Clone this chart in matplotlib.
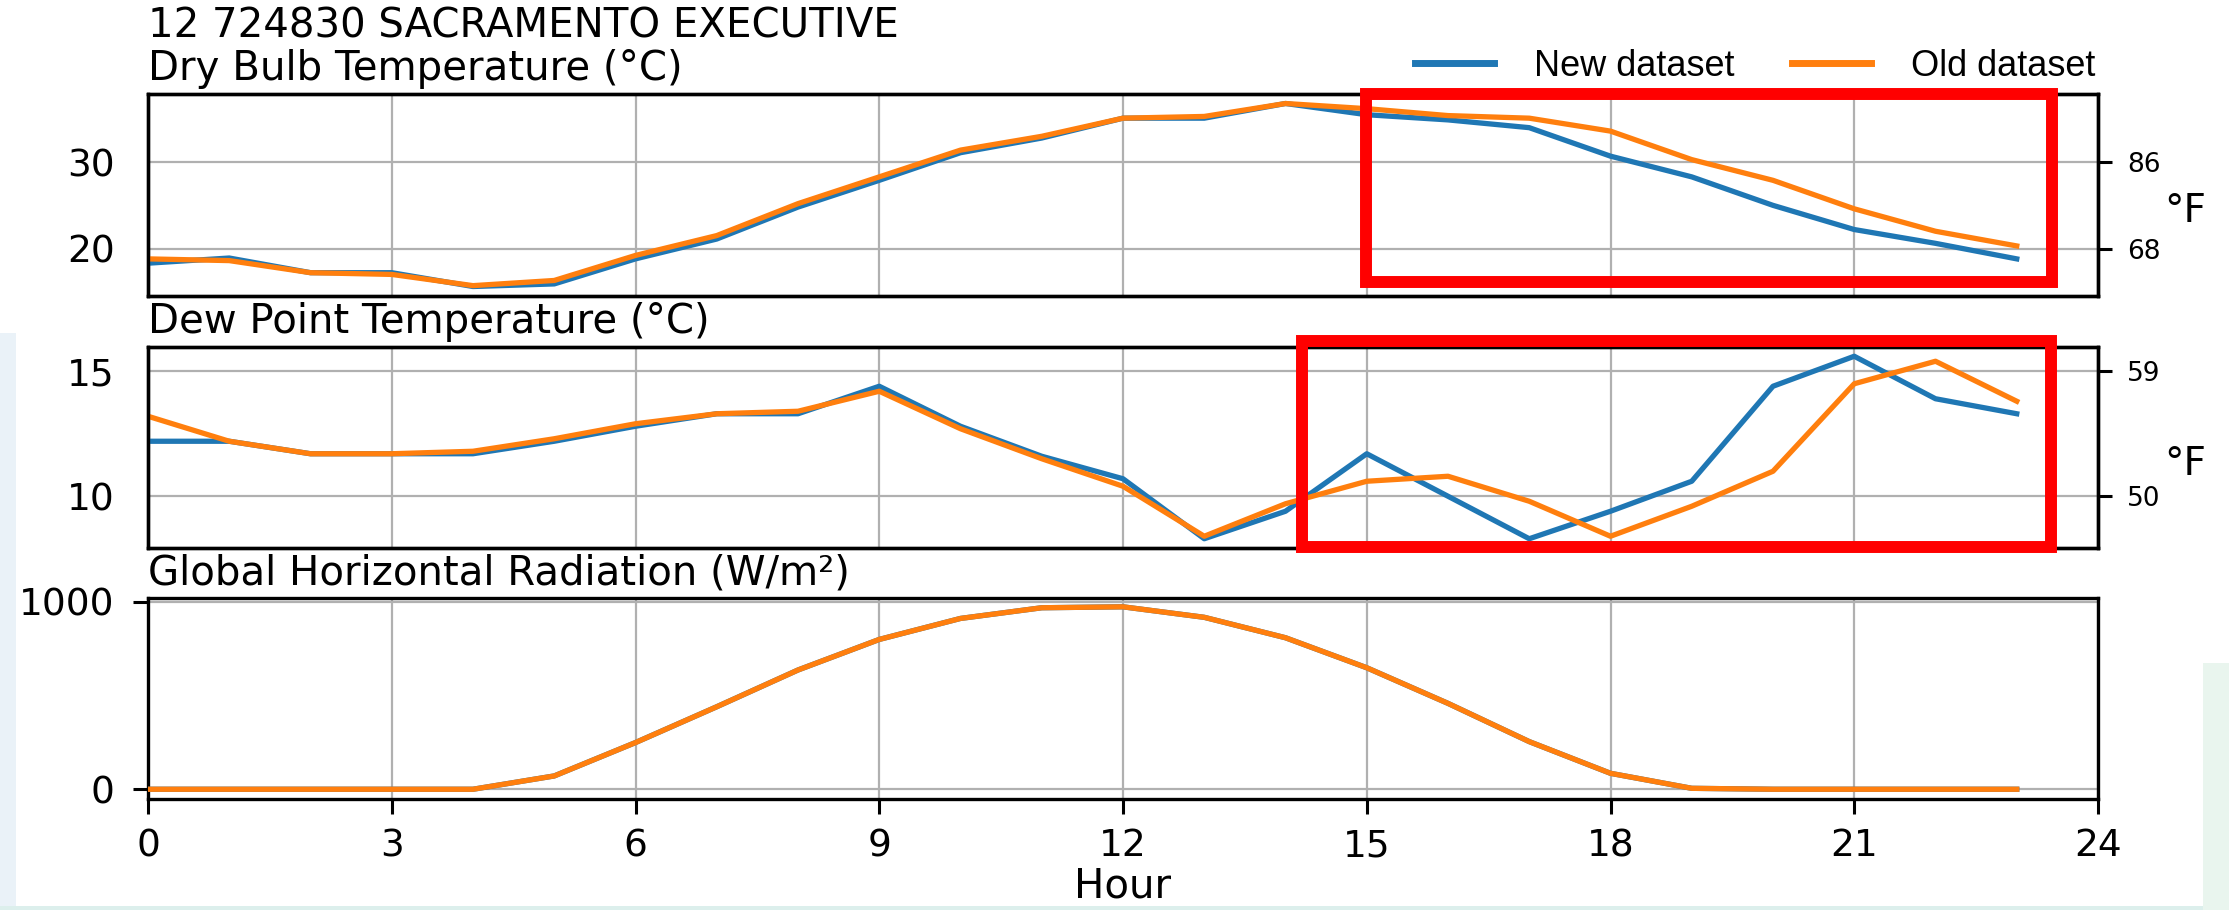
import numpy as np
import matplotlib.pyplot as plt
from matplotlib.lines import Line2D
from matplotlib.patches import Rectangle

hours = list(range(24))

dry_new = [18.3, 18.9, 17.2, 17.2, 15.6, 15.9, 18.8, 21.1, 24.8, 27.9, 31.1, 32.8,
           35.1, 35.1, 36.8, 35.5, 34.9, 34.0, 30.7, 28.3, 25.0, 22.2, 20.6, 18.8]
dry_old = [18.8, 18.6, 17.2, 17.0, 15.7, 16.3, 19.2, 21.5, 25.2, 28.3, 31.4, 33.0,
           35.1, 35.3, 36.8, 36.2, 35.4, 35.1, 33.6, 30.3, 27.9, 24.6, 22.0, 20.3]

dew_new = [12.2, 12.2, 11.7, 11.7, 11.7, 12.2, 12.8, 13.3, 13.3, 14.4, 12.8, 11.6,
           10.7, 8.3, 9.4, 11.7, 10.0, 8.3, 9.4, 10.6, 14.4, 15.6, 13.9, 13.3]
dew_old = [13.2, 12.2, 11.7, 11.7, 11.8, 12.3, 12.9, 13.3, 13.4, 14.2, 12.7, 11.5,
           10.4, 8.4, 9.7, 10.6, 10.8, 9.8, 8.4, 9.6, 11.0, 14.5, 15.4, 13.8]

ghr_new = [0, 0, 0, 0, 0, 71, 249, 440, 636, 799, 911, 968,
           973, 917, 808, 648, 458, 254, 85, 5, 0, 0, 0, 0]
ghr_old = [0, 0, 0, 0, 0, 71, 249, 440, 636, 799, 911, 968,
           973, 917, 808, 648, 458, 254, 85, 5, 0, 0, 0, 0]

station = "12 724830 SACRAMENTO EXECUTIVE"
titles = ["Dry Bulb Temperature (°C)", "Dew Point Temperature (°C)",
          "Global Horizontal Radiation (W/m²)"]
series_names = ["New dataset", "Old dataset"]
x_ticks = list(range(0, 25, 3))

W, H = 2229, 910
BLUE, ORANGE = "#1f77b4", "#ff7f0e"
FS = 27      # tick labels
TFS = 29     # titles

plt.rcParams["font.family"] = ["DejaVu Sans"]
fig = plt.figure(figsize=(W / 100, H / 100), dpi=100)


def rect_px(top, bottom, left=148, right=2098):
    return [left / W, 1 - bottom / H, (right - left) / W, (bottom - top) / H]


def c_to_f(c):
    return c * 9 / 5 + 32


panels = [
    (rect_px(94, 296), dry_new, dry_old, (14.5, 37.9), [20, 30], [68, 86]),
    (rect_px(347, 548), dew_new, dew_old, (7.93, 15.97), [10, 15], [50, 59]),
    (rect_px(598, 799), ghr_new, ghr_old, (-52, 1020), [0, 1000], None),
]

axes = []
for i, (pos, new, old, ylim, yt, ft) in enumerate(panels):
    ax = fig.add_axes(pos)
    ax.plot(hours, new, color=BLUE, lw=3.8, zorder=3)
    ax.plot(hours, old, color=ORANGE, lw=3.8, zorder=4)
    ax.set_xlim(0, 24)
    ax.set_ylim(*ylim)
    ax.set_xticks(x_ticks)
    ax.set_yticks(yt)
    ax.grid(True, color="#b0b0b0", lw=1.6)
    ax.set_axisbelow(True)
    for s in ax.spines.values():
        s.set_linewidth(2.4)
    ax.annotate(titles[i], xy=(0, 1), xycoords="axes fraction", xytext=(0, 10),
                textcoords="offset points", fontsize=TFS, ha="left", va="baseline")
    ax.tick_params(axis="y", labelsize=FS, width=2.2)
    if ft is not None:
        ax.tick_params(axis="y", length=0, pad=24)
        ax.tick_params(axis="x", length=0, labelbottom=False)
        ax2 = ax.twinx()
        ax2.set_ylim(c_to_f(ylim[0]), c_to_f(ylim[1]))
        ax2.set_yticks(ft)
        ax2.tick_params(axis="y", labelsize=19, length=10, width=2.2, pad=11)
        for s in ax2.spines.values():
            s.set_linewidth(2.4)
        ax2.text(1.034, 0.42, "°F", transform=ax2.transAxes, fontsize=28,
                 ha="left", va="center")
    else:
        ax.tick_params(axis="y", length=11, pad=13)
        ax.tick_params(axis="x", labelsize=FS, length=11, width=2.2, pad=10)
        ax.set_xlabel("Hour", fontsize=TFS, labelpad=2)
    axes.append(ax)

fig.text(148 / W, 1 - 38 / H, station, fontsize=TFS, ha="left", va="baseline")

handles = [Line2D([], [], color=BLUE, lw=5), Line2D([], [], color=ORANGE, lw=5)]
fig.legend(handles, series_names, loc="center", bbox_to_anchor=(1755 / W, 1 - 66 / H),
           ncol=2, frameon=False, handlelength=2.2, handletextpad=1.1,
           columnspacing=1.6, prop={"family": "Liberation Sans", "size": 26})

# highlight boxes
for left, top, right, bottom in [(1366, 93.5, 2052, 281.5), (1302, 340.5, 2051, 547)]:
    fig.patches.append(Rectangle((left / W, 1 - bottom / H), (right - left) / W,
                                 (bottom - top) / H, transform=fig.transFigure,
                                 fill=False, ec="red", lw=8.6, zorder=10))

# slide background showing at the edges
for x0, y0, w, h, c in [(0, 333, 16, 577, "#eaf2f8"), (0, 906, W, 4, "#dcefec"),
                        (2203, 663, 26, 247, "#e9f5ee")]:
    fig.patches.append(Rectangle((x0 / W, 1 - (y0 + h) / H), w / W, h / H,
                                 transform=fig.transFigure, color=c, lw=0, zorder=1))

fig.savefig("out.png", dpi=100)
